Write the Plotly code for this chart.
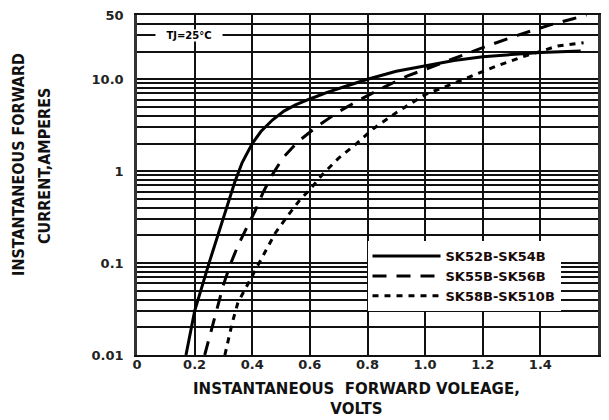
import plotly.graph_objects as go

# ---- data ----
solid_name = "SK52B-SK54B"
solid_v = [0.17, 0.2, 0.25, 0.3, 0.34, 0.365, 0.4, 0.43, 0.47, 0.51, 0.55, 0.6, 0.66, 0.73, 0.8, 0.9, 1.0, 1.1, 1.2, 1.3, 1.4, 1.54]
solid_i = [0.01, 0.03, 0.10, 0.32, 0.77, 1.24, 2.0, 2.7, 3.6, 4.5, 5.25, 6.1, 7.2, 8.5, 10, 12.2, 14, 16, 17.6, 18.5, 19.6, 20.3]

dashed_name = "SK55B-SK56B"
dashed_v = [0.235, 0.27, 0.3, 0.323, 0.35, 0.38, 0.41, 0.438, 0.469, 0.507, 0.559, 0.625, 0.698, 0.774, 0.854, 0.937, 1.02, 1.12, 1.215, 1.32, 1.434, 1.514, 1.56]
dashed_i = [0.01, 0.025, 0.058, 0.095, 0.154, 0.24, 0.37, 0.59, 0.91, 1.4, 2.1, 3.06, 4.4, 6.0, 8.1, 10.8, 13.6, 18, 23, 30, 39, 45.5, 50]

dotted_name = "SK58B-SK510B"
dotted_v = [0.305, 0.33, 0.35, 0.38, 0.41, 0.434, 0.479, 0.524, 0.566, 0.60, 0.642, 0.698, 0.764, 0.82, 0.903, 1.0, 1.13, 1.25, 1.34, 1.46, 1.55]
dotted_i = [0.01, 0.022, 0.037, 0.055, 0.082, 0.115, 0.21, 0.33, 0.49, 0.63, 0.91, 1.37, 2.02, 2.9, 4.4, 6.8, 10, 14, 17.6, 23, 25]

x_tickvals = [0, 0.2, 0.4, 0.6, 0.8, 1.0, 1.2, 1.4, 1.6]
x_ticktext = ["0", "0.2", "0.4", "0.6", "0.8", "1.0", "1.2", "1.4", "1.6"]
y_tickvals = [0.01, 0.1, 1, 10, 50]
y_ticktext = ["0.01", "0.1", "1", "10.0", "50"]
y_minor = [m * d for d in (0.01, 0.1, 1) for m in range(2, 10)] + [20, 30, 40]

temp_label = "TJ=25°C"
x_title_1 = "INSTANTANEOUS  FORWARD VOLEAGE,"
x_title_2 = "VOLTS"
y_title_1 = "INSTANTANEOUS FORWARD"
y_title_2 = "CURRENT,AMPERES"

BOLD = "DejaVu Sans"
NARROW = "DejaVu Sans Condensed, Liberation Sans Narrow, Liberation Sans, sans-serif"

fig = go.Figure()
fig.add_trace(go.Scatter(x=solid_v, y=solid_i, mode="lines", name=solid_name,
                         line=dict(color="black", width=3)))
fig.add_trace(go.Scatter(x=dashed_v, y=dashed_i, mode="lines", name=dashed_name,
                         line=dict(color="black", width=3, dash="14px,10px")))
fig.add_trace(go.Scatter(x=dotted_v, y=dotted_i, mode="lines", name=dotted_name,
                         line=dict(color="black", width=3, dash="6px,6px")))

fig.update_layout(
    width=609, height=420,
    margin=dict(l=137, r=11, t=8, b=65),
    paper_bgcolor="white", plot_bgcolor="white",
    showlegend=True,
    legend=dict(x=0.5, y=0.335, xanchor="left", yanchor="top",
                bgcolor="white", borderwidth=0, itemwidth=68,
                font=dict(family=BOLD, size=13, color="#1a0a0a", weight="bold"),
                tracegroupgap=0, itemclick=False),
    font=dict(family=BOLD, color="black"),
)

fig.update_xaxes(
    range=[0, 1.6], tickmode="array", tickvals=x_tickvals, ticktext=x_ticktext,
    showgrid=True, gridcolor="#111", gridwidth=2.2,
    showline=True, linecolor="#111", linewidth=2, mirror=True,
    ticks="", zeroline=False, ticklabelstandoff=-4,
    tickfont=dict(family=BOLD, size=13, color="#222", weight="bold"),
)
fig.update_yaxes(
    type="log", range=[-2, 1.699], tickmode="array", tickvals=y_tickvals, ticktext=y_ticktext,
    showgrid=True, gridcolor="#111", gridwidth=2,
    showline=True, linecolor="#333", linewidth=2.5, mirror=True,
    ticks="", zeroline=False, ticklabelstandoff=8,
    tickfont=dict(family=BOLD, size=13, color="#222", weight="bold"),
    minor=dict(tickmode="array", tickvals=y_minor, showgrid=True,
               gridcolor="#111", gridwidth=1.8, ticks=""),
)

fig.add_annotation(x=0.18, y=1.477, xref="x", yref="y",
                   text="&nbsp;&nbsp;&nbsp;" + temp_label + "&nbsp;&nbsp;&nbsp;",
                   showarrow=False, bgcolor="white", borderpad=0,
                   font=dict(family=BOLD, size=10, color="black", weight="bold"))

fig.add_annotation(xref="paper", yref="paper", x=0.477, y=-0.128, yanchor="middle",
                   text=x_title_1 + "<br>" + x_title_2, showarrow=False, align="center",
                   font=dict(family=BOLD, size=15, color="#111", weight="bold"))
fig.add_annotation(xref="paper", yref="paper", x=-0.256, y=0.562, xanchor="center", yanchor="middle",
                   textangle=-90, text=y_title_1, showarrow=False,
                   font=dict(family=NARROW, size=16, color="#111", weight="bold"))
fig.add_annotation(xref="paper", yref="paper", x=-0.2, y=0.555, xanchor="center", yanchor="middle",
                   textangle=-90, text=y_title_2, showarrow=False,
                   font=dict(family=NARROW, size=16, color="#111", weight="bold"))

fig.write_html("out.html", config={"displayModeBar": False},
               post_script="document.body.style.margin='0';")
